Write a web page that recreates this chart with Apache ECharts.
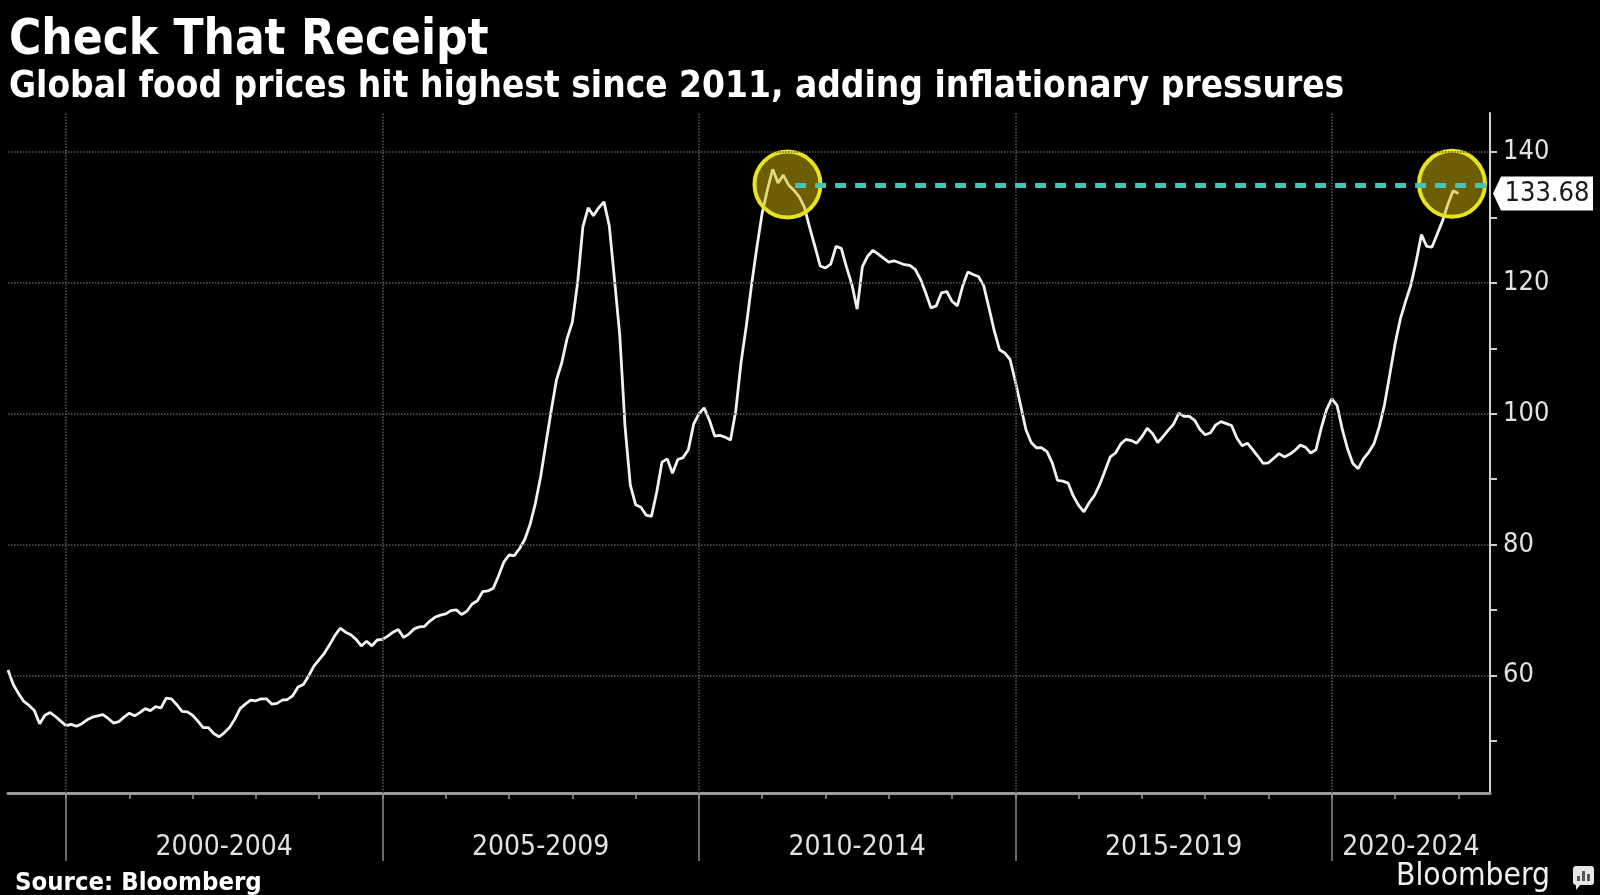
<!DOCTYPE html>
<html>
<head>
<meta charset="utf-8">
<script src="https://cdn.jsdelivr.net/npm/echarts@6/dist/echarts.min.js"></script>
<style>
html,body{margin:0;padding:0;background:#000;}
#chart{width:1600px;height:895px;}
</style>
</head>
<body>
<div id="chart"></div>
<script>
// ---- data (monthly global food price index, Jan 1999 - Dec 2021) ----
const startYear = 1999; // first observation: January 1999 (plotted at month end)
const values1999to2004 = [
  60.8, 58.6, 57.2, 56.0, 55.4, 54.6, 52.6, 53.9, 54.3, 53.7, 53.0, 52.3,
  52.5, 52.2, 52.6, 53.2, 53.6, 53.8, 54.0, 53.4, 52.7, 52.9, 53.6, 54.2,
  53.8, 54.3, 54.9, 54.6, 55.2, 55.0, 56.5, 56.4, 55.5, 54.5, 54.4, 53.9,
  53.0, 52.0, 52.0, 51.1, 50.6, 51.2, 52.0, 53.3, 54.9, 55.6, 56.2, 56.1,
  56.4, 56.4, 55.6, 55.7, 56.2, 56.3, 56.9, 58.2, 58.6, 59.9, 61.4, 62.4,
  63.4, 64.7, 66.1, 67.2, 66.6, 66.2, 65.5, 64.5, 65.2, 64.5, 65.4, 65.5
];
const values2005to2009 = [
  66.0, 66.6, 67.0, 65.8, 66.3, 67.1, 67.4, 67.5, 68.3, 68.9, 69.2, 69.4,
  69.9, 70.0, 69.3, 69.8, 70.9, 71.4, 72.8, 72.9, 73.3, 75.2, 77.3, 78.4,
  78.3, 79.4, 80.8, 83.1, 86.3, 90.4, 95.5, 100.5, 105.2, 107.8, 111.5, 114.0,
  120.0, 128.6, 131.5, 130.3, 131.5, 132.4, 128.8, 120.5, 112.0, 98.0, 89.1, 86.1,
  85.7, 84.5, 84.3, 88.0, 92.6, 93.1, 90.9, 93.0, 93.3, 94.5, 98.4, 100.0
];
const values2010to2014 = [
  100.9, 99.0, 96.6, 96.7, 96.4, 96.0, 100.5, 107.9, 113.5, 119.8, 125.5, 130.7,
  134.3, 137.4, 135.3, 136.5, 135.0, 134.2, 133.2, 131.6, 128.5, 125.6, 122.6, 122.3,
  122.9, 125.6, 125.3, 122.4, 119.8, 116.0, 122.5, 124.1, 125.0, 124.4, 123.8, 123.2,
  123.4, 123.1, 122.8, 122.7, 122.1, 120.6, 118.5, 116.2, 116.5, 118.5, 118.7, 117.2,
  116.5, 119.5, 121.7, 121.3, 121.0, 119.6, 116.2, 112.7, 109.8, 109.3, 108.3, 105.0
];
const values2015to2019 = [
  101.3, 97.6, 95.6, 94.8, 94.8, 94.2, 92.5, 89.8, 89.7, 89.4, 87.4, 86.0,
  85.0, 86.4, 87.5, 89.2, 91.3, 93.4, 94.0, 95.4, 96.1, 95.9, 95.5, 96.5,
  97.8, 97.0, 95.6, 96.5, 97.5, 98.4, 100.1, 99.6, 99.6, 99.0, 97.6, 96.8,
  97.1, 98.3, 98.8, 98.5, 98.2, 96.3, 95.1, 95.5, 94.5, 93.5, 92.4, 92.5,
  93.2, 93.9, 93.4, 93.8, 94.4, 95.2, 94.9, 94.0, 94.5, 97.8, 100.6, 102.3
];
const values2020to2021 = [
  101.3, 97.6, 94.6, 92.4, 91.6, 93.1, 94.1, 95.4, 98.0, 101.4, 106.0, 110.7,
  114.5, 117.2, 119.7, 123.3, 127.4, 125.6, 125.5, 127.5, 129.5, 132.0, 134.1, 133.68
];

// axis ticks / labels
const periodLabels = ['2000-2004', '2005-2009', '2010-2014', '2015-2019', '2020-2024'];
const periodLabelPositions = [2002.5, 2007.5, 2012.5, 2017.5, 2021.25];
const periodStarts = [2000, 2005, 2010, 2015, 2020];
const yearTicks = [2000, 2001, 2002, 2003, 2004, 2005, 2006, 2007, 2008, 2009, 2010,
  2011, 2012, 2013, 2014, 2015, 2016, 2017, 2018, 2019, 2020, 2021, 2022];
const yTickLabels = [60, 80, 100, 120, 140];
const yTicks = [50, 60, 70, 80, 90, 100, 110, 120, 130, 140];

// annotations
const lastValueLabel = '133.68';
const lastValue = 133.68;
const highlightCircles = [[2011.40, 135.06], [2021.90, 135.17]];
const referenceLevel = 135.0;
const referenceStart = 2011.52;

const xMin = 1999 + 1 / 12, xMax = 2022.5, yMin = 42, yMax = 146;

// ---- build ----
const allValues = [].concat(values1999to2004, values2005to2009, values2010to2014, values2015to2019, values2020to2021);
const lineData = allValues.map((v, i) => [startYear + (i + 1) / 12, v]);

const F = "'DejaVu Sans Condensed','DejaVu Sans',sans-serif";

const chart = echarts.init(document.getElementById('chart'), null, {renderer: 'canvas'});
chart.setOption({
  backgroundColor: '#000',
  animation: false,
  grid: {left: 8, right: 110, top: 113, bottom: 102, containLabel: false},
  xAxis: [
    {
      type: 'value', min: xMin, max: xMax, position: 'bottom',
      axisLine: {show: true, onZero: false, lineStyle: {color: '#9a9a9a', width: 3}},
      axisTick: {show: true, customValues: yearTicks, length: 6, lineStyle: {color: '#9a9a9a', width: 1.5}},
      axisLabel: {
        show: true, customValues: periodLabelPositions,
        formatter: function (v) {
          for (let j = 0; j < periodLabelPositions.length; j++) {
            if (Math.abs(periodLabelPositions[j] - v) < 1e-6) return periodLabels[j];
          }
          return '';
        },
        color: '#e2e2e2', fontSize: 28, fontFamily: F, margin: 41
      },
      splitLine: {show: false}
    },
    {
      type: 'value', min: xMin, max: xMax, position: 'bottom',
      axisLine: {show: false},
      axisTick: {show: true, customValues: periodStarts, length: 68, lineStyle: {color: '#8a8a8a', width: 1.5}},
      axisLabel: {show: false},
      splitLine: {show: false}
    }
  ],
  yAxis: {
    type: 'value', position: 'right', min: yMin, max: yMax,
    axisLine: {show: true, lineStyle: {color: '#cfcfcf', width: 2}},
    axisTick: {show: true, customValues: yTicks, length: 7, lineStyle: {color: '#cfcfcf', width: 2}},
    axisLabel: {show: true, customValues: yTickLabels, color: '#e2e2e2', fontSize: 27, fontFamily: F, margin: 13},
    splitLine: {show: false}
  },
  graphic: [
    {type: 'text', x: 9, y: 41, style: {text: 'Check That Receipt', fill: '#ffffff', font: 'bold 49px ' + F, verticalAlign: 'middle'}},
    {type: 'text', x: 9, y: 87, style: {text: 'Global food prices hit highest since 2011, adding inflationary pressures', fill: '#ffffff', font: 'bold 36.7px ' + F, verticalAlign: 'middle'}},
    {type: 'text', x: 15, y: 883, style: {text: 'Source: Bloomberg', fill: '#ffffff', font: 'bold 25.5px ' + F, verticalAlign: 'middle'}},
    {type: 'text', x: 1396, y: 877, style: {text: 'Bloomberg', fill: '#f0f0f0', font: '31.5px ' + F, verticalAlign: 'middle'}},
    {type: 'rect', shape: {x: 1573, y: 866, width: 21, height: 19, r: 3}, style: {fill: '#e6e6e6'}},
    {type: 'polygon', shape: {points: [[1576, 884], [1581, 884], [1576, 890]]}, style: {fill: '#e6e6e6'}},
    {type: 'rect', shape: {x: 1577, y: 876, width: 3, height: 5}, style: {fill: '#555'}},
    {type: 'rect', shape: {x: 1582, y: 871, width: 3, height: 10}, style: {fill: '#555'}},
    {type: 'rect', shape: {x: 1587, y: 874, width: 3, height: 7}, style: {fill: '#555'}}
  ],
  series: [
    {
      name: 'grid', type: 'line', data: [], silent: true, z: 1,
      markLine: {
        silent: true, symbol: ['none', 'none'], label: {show: false}, animation: false,
        lineStyle: {type: 'dotted', color: '#5a5a5a', width: 1.5},
        emphasis: {disabled: true},
        data: [].concat(yTickLabels.map(v => ({yAxis: v})), periodStarts.map(v => ({xAxis: v})))
      }
    },
    {
      name: 'Food price index', type: 'line', data: lineData, showSymbol: false, z: 3,
      lineStyle: {color: '#f2f2f2', width: 2.8}, silent: true,
      markPoint: {
        z: 4, silent: true, animation: false,
        data: [
          {coord: highlightCircles[0], symbol: 'circle', symbolSize: 66,
            itemStyle: {color: 'rgba(215,188,8,0.5)', borderColor: '#e9e21e', borderWidth: 4}, label: {show: false}},
          {coord: highlightCircles[1], symbol: 'circle', symbolSize: 66,
            itemStyle: {color: 'rgba(215,188,8,0.5)', borderColor: '#e9e21e', borderWidth: 4}, label: {show: false}},
          {coord: [xMax, lastValue], symbol: 'path://M0 17L8 0L100 0L100 34L8 34Z', symbolKeepAspect: false,
            symbolSize: [100, 34], symbolOffset: [53, 0],
            itemStyle: {color: '#ffffff', borderWidth: 0},
            label: {show: true, position: 'inside', formatter: lastValueLabel, color: '#1a1a1a', fontSize: 27, fontFamily: F, offset: [4, 0]}}
        ]
      },
      markLine: {
        z: 6, silent: true, animation: false, symbol: ['none', 'none'], label: {show: false},
        lineStyle: {color: '#3fc6bb', width: 5, type: [11, 9]},
        data: [[{coord: [referenceStart, referenceLevel]}, {coord: [xMax, referenceLevel]}]]
      }
    }
  ]
});
</script>
</body>
</html>
